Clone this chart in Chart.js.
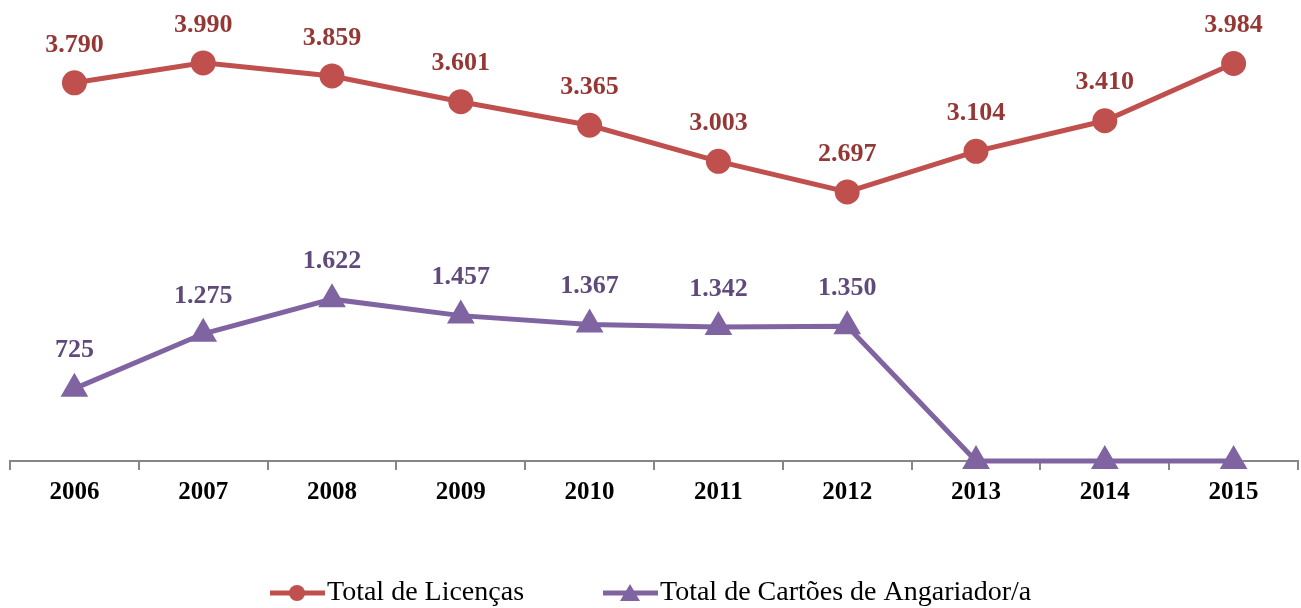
<!DOCTYPE html>
<html>
<head>
<meta charset="utf-8">
<script src="https://cdn.jsdelivr.net/npm/chart.js@4/dist/chart.umd.min.js"></script>
<style>
  html, body { margin: 0; padding: 0; background: #fff; overflow: hidden; }
  body { width: 1301px; height: 608px; position: relative; }
  /* o canvas é ligeiramente maior para compensar a margem automática dos pontos */
  #wrap { position: absolute; left: -6px; top: -4px; width: 1320px; height: 612px; }
</style>
</head>
<body>
<div id="wrap"><canvas id="chart"></canvas></div>
<script>
  // dados do gráfico
  const anos = ['2006', '2007', '2008', '2009', '2010', '2011', '2012', '2013', '2014', '2015'];
  const totalLicencas = [3790, 3990, 3859, 3601, 3365, 3003, 2697, 3104, 3410, 3984];
  const totalCartoes = [725, 1275, 1622, 1457, 1367, 1342, 1350, 0, 0, 0];

  const FONT = '"Liberation Serif", "DejaVu Serif", serif';

  function fmt(v) {
    return v.toLocaleString('de-DE');
  }

  // rótulos de valor por cima dos pontos
  const rotulos = {
    id: 'rotulos',
    afterDatasetsDraw(chart) {
      const ctx = chart.ctx;
      ctx.save();
      ctx.font = 'bold 26px ' + FONT;
      ctx.textAlign = 'center';
      ctx.textBaseline = 'middle';
      chart.data.datasets.forEach((ds, i) => {
        const meta = chart.getDatasetMeta(i);
        ctx.fillStyle = ds.labelColor;
        meta.data.forEach((pt, j) => {
          const v = ds.data[j];
          if (!v) return;
          ctx.fillText(fmt(v), pt.x, pt.y - 38);
        });
      });
      ctx.restore();
    }
  };

  // legenda com linha e marcador
  const legenda = {
    id: 'legenda',
    afterDraw(chart) {
      const ctx = chart.ctx;
      const y = 597;
      const itens = [
        { x: 276, ds: chart.data.datasets[0] },
        { x: 609, ds: chart.data.datasets[1] }
      ];
      ctx.save();
      ctx.font = '28px ' + FONT;
      ctx.textBaseline = 'middle';
      itens.forEach(it => {
        ctx.strokeStyle = it.ds.borderColor;
        ctx.lineWidth = 5;
        ctx.beginPath();
        ctx.moveTo(it.x, y);
        ctx.lineTo(it.x + 55, y);
        ctx.stroke();
        ctx.fillStyle = it.ds.borderColor;
        ctx.beginPath();
        if (it.ds.pointStyle === 'triangle') {
          ctx.moveTo(it.x + 27, y - 9);
          ctx.lineTo(it.x + 37, y + 8);
          ctx.lineTo(it.x + 17, y + 8);
          ctx.closePath();
        } else {
          ctx.arc(it.x + 27, y, 8, 0, Math.PI * 2);
        }
        ctx.fill();
        ctx.fillStyle = '#000';
        ctx.fillText(it.ds.label, it.x + 57, y);
      });
      ctx.restore();
    }
  };

  new Chart(document.getElementById('chart'), {
    type: 'line',
    data: {
      labels: anos,
      datasets: [{
        label: 'Total de Licenças',
        data: totalLicencas,
        borderColor: '#C0504D',
        backgroundColor: '#C0504D',
        labelColor: '#953735',
        borderWidth: 5,
        pointStyle: 'circle',
        pointRadius: 10,
        pointHoverRadius: 10,
        clip: false,
        tension: 0
      }, {
        label: 'Total de Cartões de Angariador/a',
        data: totalCartoes,
        borderColor: '#8064A2',
        backgroundColor: '#8064A2',
        labelColor: '#604A7B',
        borderWidth: 5,
        pointStyle: 'triangle',
        pointRadius: 11,
        pointHoverRadius: 11,
        clip: false,
        tension: 0
      }]
    },
    options: {
      responsive: true,
      maintainAspectRatio: false,
      animation: false,
      layout: { padding: { top: 16, left: 0, right: 0, bottom: 92 } },
      plugins: {
        legend: { display: false },
        tooltip: { enabled: false }
      },
      scales: {
        x: {
          offset: true,
          grid: {
            offset: true,
            drawOnChartArea: false,
            drawTicks: true,
            tickLength: 9,
            color: '#868686',
            lineWidth: 2
          },
          border: { color: '#868686', width: 2 },
          ticks: {
            color: '#000',
            padding: 8,
            font: { family: FONT, size: 25, weight: 'bold' }
          }
        },
        y: {
          display: false,
          min: 0,
          max: 4500
        }
      }
    },
    plugins: [rotulos, legenda]
  });
</script>
</body>
</html>
